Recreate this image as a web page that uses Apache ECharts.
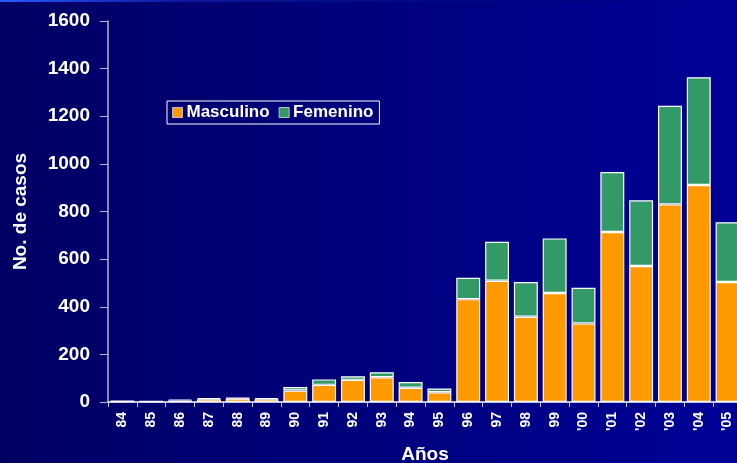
<!DOCTYPE html>
<html>
<head>
<meta charset="utf-8">
<script src="https://cdn.jsdelivr.net/npm/echarts@6/dist/echarts.min.js"></script>
<style>
  html, body { margin: 0; padding: 0; }
  #chart { width: 737px; height: 463px; }
</style>
</head>
<body>
<div id="chart"></div>
<script>
// Casos por año y sexo
const years = ['84','85','86','87','88','89','90','91','92','93','94','95',
               '96','97','98','99',"'00","'01","'02","'03","'04","'05"];
const masculino = [3, 2, 6, 12, 15, 12, 48, 72, 93, 104, 60, 41,
                   432, 509, 358, 458, 330, 714, 571, 830, 911, 504];
const femenino  = [1, 1, 5, 5, 2, 4, 15, 23, 15, 21, 24, 16,
                   90, 164, 146, 229, 150, 252, 276, 414, 453, 251];
const yTicks = [0, 200, 400, 600, 800, 1000, 1200, 1400, 1600];

const FONT = '"Liberation Sans", Arial, sans-serif';
const chart = echarts.init(document.getElementById('chart'));

chart.setOption({
  backgroundColor: {
    type: 'linear', x: 0, y: 0, x2: 1, y2: 0,
    colorStops: [
      { offset: 0, color: '#000064' },
      { offset: 1, color: '#000096' }
    ]
  },
  graphic: [{
    type: 'rect',
    left: 0, top: 0,
    shape: { width: 737, height: 2 },
    style: {
      fill: {
        type: 'linear', x: 0, y: 0, x2: 1, y2: 0,
        colorStops: [
          { offset: 0, color: '#2a5cff' },
          { offset: 0.25, color: 'rgba(40,80,255,0.3)' },
          { offset: 1, color: 'rgba(0,0,0,0)' }
        ]
      }
    }
  }],
  animation: false,
  legend: {
    left: 167, top: 101,
    padding: [3, 6, 3, 5],
    borderColor: '#ffffff',
    borderWidth: 1,
    itemWidth: 10, itemHeight: 10, itemGap: 9,
    icon: 'rect',
    itemStyle: { borderColor: '#c0c0c0', borderWidth: 1 },
    textStyle: { color: '#ffffff', fontFamily: FONT, fontWeight: 'bold', fontSize: 17, padding: [0, 0, 0, -1] },
    data: ['Masculino', 'Femenino']
  },
  grid: { left: 108, right: -5, top: 21, bottom: 61, outerBoundsMode: 'none', containLabel: false },
  xAxis: {
    type: 'category',
    data: years,
    name: 'Años',
    nameLocation: 'middle',
    nameGap: 43,
    nameTextStyle: { color: '#ffffff', fontFamily: FONT, fontWeight: 'bold', fontSize: 19 },
    axisLine: { lineStyle: { color: '#ffffff', width: 1.5 } },
    axisTick: { show: true, alignWithLabel: false, length: 5, lineStyle: { color: '#c8c8e0' } },
    axisLabel: { color: '#ffffff', fontFamily: FONT, fontWeight: 'bold', fontSize: 14, rotate: 90, margin: 10 }
  },
  yAxis: {
    type: 'value',
    min: yTicks[0], max: yTicks[yTicks.length - 1], interval: 200,
    name: 'No. de casos',
    nameLocation: 'middle',
    nameGap: 78,
    nameTextStyle: { color: '#ffffff', fontFamily: FONT, fontWeight: 'bold', fontSize: 19 },
    axisLine: { show: true, lineStyle: { color: '#b4b4cc', width: 1.5 } },
    axisTick: { show: true, length: 8, lineStyle: { color: '#b4b4cc' } },
    splitLine: { show: false },
    axisLabel: {
      color: '#ffffff', fontFamily: FONT, fontWeight: 'bold', fontSize: 19, margin: 18,
      formatter: v => String(v)
    }
  },
  series: [
    {
      name: 'Masculino', type: 'bar', stack: 'total',
      data: masculino, barCategoryGap: '17%',
      itemStyle: { color: '#ff9900', borderColor: '#ffffff', borderWidth: 1.2 }
    },
    {
      name: 'Femenino', type: 'bar', stack: 'total',
      data: femenino, barCategoryGap: '17%',
      itemStyle: { color: '#339966', borderColor: '#ffffff', borderWidth: 1.2 }
    }
  ]
});
</script>
</body>
</html>
